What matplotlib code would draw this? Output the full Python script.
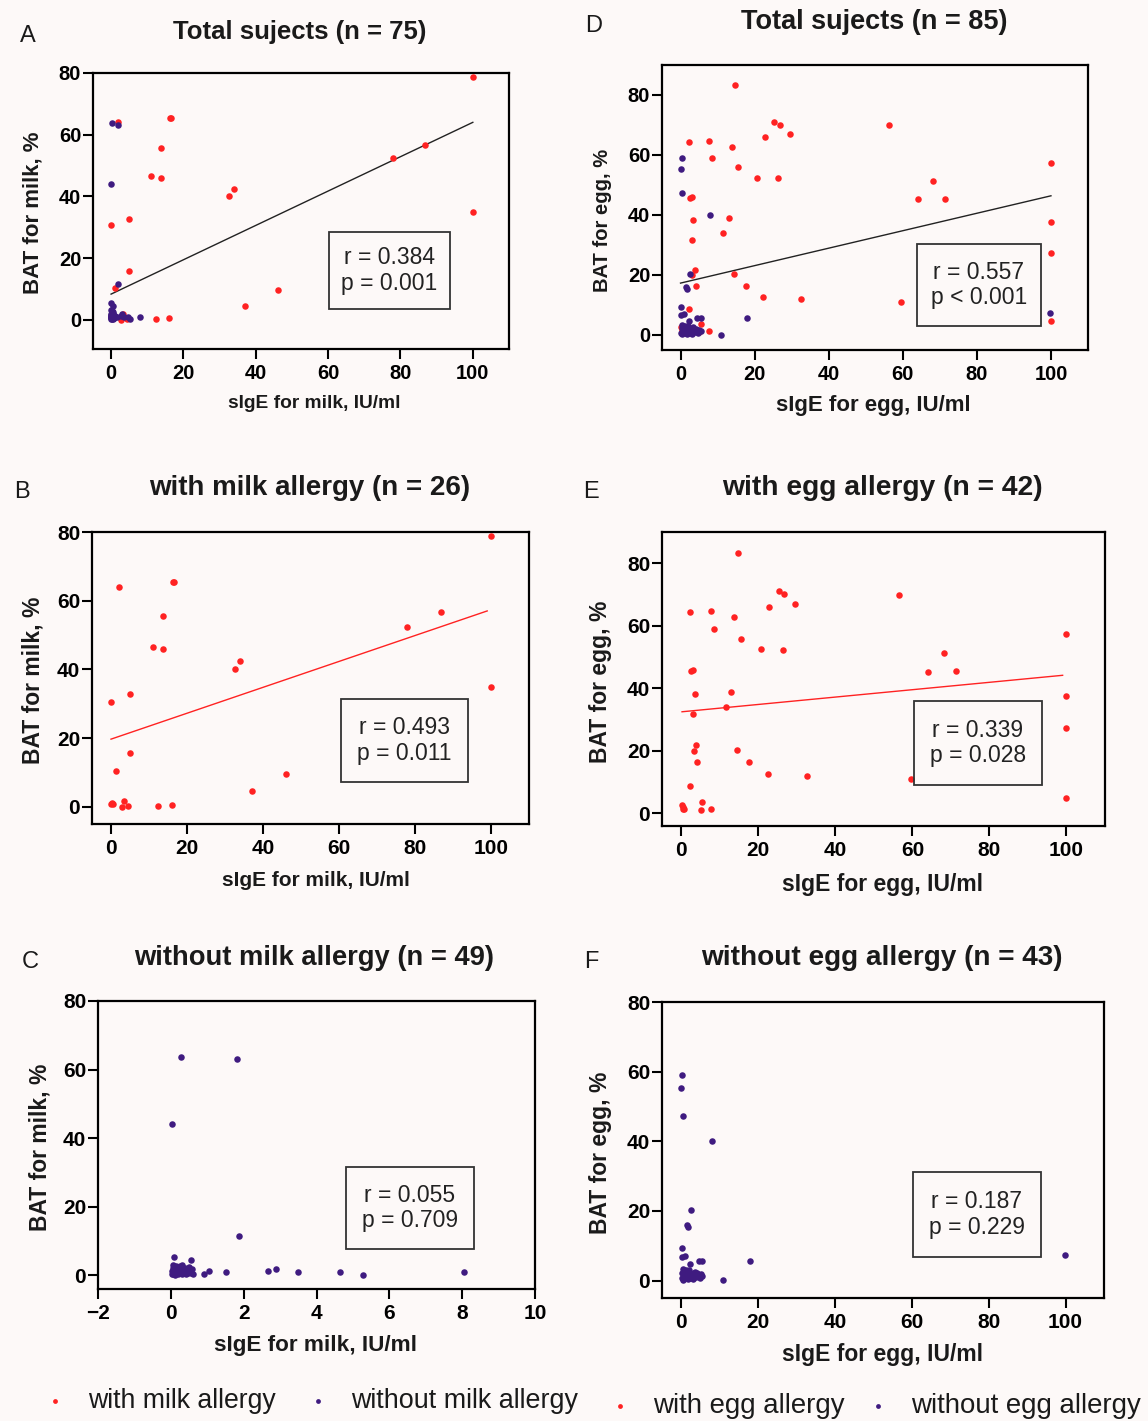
import matplotlib
matplotlib.use("Agg")
import matplotlib.pyplot as plt
from matplotlib.patches import Rectangle
import numpy as np

plt.rcParams['font.family'] = ['Liberation Sans', 'DejaVu Sans']

# milk allergy (n = 26): sIgE for milk, BAT for milk
milk_pos_x = [100, 2.0, 16.4, 16.6, 13.7, 11.1, 13.7, 32.7, 34.0, 77.8, 86.8, 100,
              0.0, 5.0, 4.9, 1.2, 0.0, 0.6, 2.8, 3.4, 4.5, 12.4, 16.1, 37.0, 46.1, 0.3]
milk_pos_y = [78.7, 64.0, 65.5, 65.3, 55.6, 46.6, 45.9, 40.1, 42.5, 52.3, 56.8, 34.8,
              30.6, 32.8, 15.8, 10.4, 0.9, 0.7, -0.1, 1.7, 0.1, 0.1, 0.4, 4.5, 9.6, 1.0]

# without milk allergy (n = 49)
milk_neg_x = [0.28, 1.82, 0.04, 1.86, 0.10, 0.56, 0.91, 1.05, 1.51, 2.68, 2.89, 3.48, 4.64, 5.28, 8.04,
              0.02, 0.03, 0.05, 0.06, 0.08, 0.10, 0.12, 0.13, 0.15, 0.17, 0.18, 0.20, 0.22, 0.24,
              0.25, 0.27, 0.30, 0.32, 0.34, 0.36, 0.38, 0.40, 0.42, 0.45, 0.48, 0.50, 0.52, 0.55,
              0.58, 0.60, 0.05, 0.15, 0.28, 0.44]
milk_neg_y = [63.8, 63.0, 44.1, 11.6, 5.3, 4.6, 0.4, 1.2, 0.9, 1.2, 1.7, 0.9, 0.9, 0.2, 0.9,
              0.5, 1.2, 0.3, 2.0, 0.8, 1.5, 0.2, 2.4, 1.0, 0.6, 1.8, 0.4, 1.3, 2.6,
              0.9, 1.6, 0.5, 2.9, 1.1, 0.7, 2.2, 1.4, 0.3, 1.9, 0.8, 2.5, 1.0, 0.6,
              1.7, 0.4, 3.0, 2.8, 2.1, 0.9]

# egg allergy (n = 42)
egg_pos_x = [14.7, 2.2, 7.8, 13.8, 8.5, 15.5, 22.9, 25.3, 26.8, 29.5, 20.6, 26.4, 56.4, 100,
             68.1, 64.0, 71.3, 2.6, 3.0, 3.5, 13.0, 11.6, 3.1, 100, 100, 3.8, 3.2, 4.2,
             14.4, 17.7, 22.4, 32.6, 59.6, 2.2, 100, 0.2, 0.4, 0.8, 5.5, 5.1, 7.8, 0.5]
egg_pos_y = [83.2, 64.4, 64.6, 62.7, 58.9, 55.9, 65.9, 71.0, 70.1, 67.0, 52.5, 52.4, 69.9, 57.5,
             51.4, 45.3, 45.4, 45.7, 46.0, 38.2, 38.9, 33.9, 31.7, 37.7, 27.4, 21.8, 20.1, 16.4,
             20.3, 16.4, 12.7, 11.9, 10.9, 8.7, 4.8, 2.8, 1.4, 1.3, 3.6, 1.0, 1.4, 2.0]

# without egg allergy (n = 43)
egg_neg_x = [0.3, 0.0, 0.4, 8.0, 2.5, 1.5, 1.8, 0.1, 0.2, 1.0, 2.2, 4.5, 5.5, 18.0, 11.0, 99.8,
             0.1, 0.3, 0.5, 0.7, 0.9, 1.1, 1.3, 1.5, 1.7, 1.9, 2.1, 2.3, 2.5, 2.8, 3.0, 3.3,
             3.6, 3.9, 4.2, 4.5, 4.8, 5.1, 5.4, 0.4, 1.2, 2.0, 3.5]
egg_neg_y = [59.0, 55.2, 47.3, 40.1, 20.4, 15.9, 15.4, 9.4, 6.7, 7.0, 4.7, 5.7, 5.7, 5.7, 0.1, 7.4,
             0.8, 2.2, 0.3, 1.5, 2.8, 0.6, 1.9, 1.0, 0.4, 2.5, 1.3, 0.7, 2.0, 1.1, 0.5, 2.3,
             1.6, 0.9, 2.1, 1.2, 0.6, 1.8, 1.4, 3.2, 3.0, 2.9, 2.6]

# regression lines as printed (intercept, slope)
fit_a = [8.3, 0.557]
fit_b = [19.7, 0.377]
fit_d = [17.3, 0.291]
fit_e = [32.5, 0.118]

stats = {"A": "r = 0.384\np = 0.001", "B": "r = 0.493\np = 0.011", "C": "r = 0.055\np = 0.709",
         "D": "r = 0.557\np < 0.001", "E": "r = 0.339\np = 0.028", "F": "r = 0.187\np = 0.229"}

RED = '#ff2222'
PURPLE = '#3f1b80'
BG = '#fdf9f8'
W, H = 1148, 1421

fig = plt.figure(figsize=(W / 100, H / 100), dpi=100, facecolor=BG)


def rect(l, r, t, b):
    return [l / W, 1 - b / H, (r - l) / W, (b - t) / H]


def make_ax(box, xlim, ylim, xticks, yticks, tsize=15):
    ax = fig.add_axes(rect(*box))
    ax.set_facecolor(BG)
    ax.set_xlim(*xlim)
    ax.set_ylim(*ylim)
    ax.set_xticks(xticks)
    ax.set_yticks(yticks)
    for s in ax.spines.values():
        s.set_linewidth(1.6)
    ax.tick_params(length=7, width=1.5, labelsize=tsize)
    ax.tick_params(axis='x', pad=4)
    ax.tick_params(axis='y', pad=1.5)
    for lab in ax.get_xticklabels() + ax.get_yticklabels():
        lab.set_fontweight('bold')
    return ax


def stat_box(ax, key, x0, x1, y0, y1):
    ax.add_patch(Rectangle((x0, y0), x1 - x0, y1 - y0, transform=ax.transAxes,
                           fill=False, edgecolor='#333333', linewidth=1.3, zorder=4))
    ax.text((x0 + x1) / 2, (y0 + y1) / 2, stats[key], transform=ax.transAxes,
            ha='center', va='center', fontsize=16.5, color='#222222',
            linespacing=1.15, zorder=5)


def fit_line(ax, fit, xs, color):
    xx = np.array([min(xs), max(xs)])
    ax.plot(xx, fit[0] + fit[1] * xx, color=color, linewidth=1.0, zorder=2)


mk = dict(s=22, linewidths=0, zorder=3)
xt100 = [0, 20, 40, 60, 80, 100]

# A
axA = make_ax((93, 509, 73, 349), (-5, 110), (-9.5, 80), xt100, [0, 20, 40, 60, 80], 14.5)
axA.scatter(milk_pos_x, milk_pos_y, color=RED, **mk)
axA.scatter(milk_neg_x, milk_neg_y, color=PURPLE, **mk)
fit_line(axA, fit_a, milk_pos_x + milk_neg_x, '#222222')
stat_box(axA, "A", 0.567, 0.858, 0.145, 0.424)

# B
axB = make_ax((92, 529, 532, 824), (-5, 110), (-5, 80), xt100, [0, 20, 40, 60, 80])
axB.scatter(milk_pos_x, milk_pos_y, color=RED, **mk)
fit_line(axB, fit_b, [0, 99], RED)
stat_box(axB, "B", 0.569, 0.861, 0.145, 0.427)

# C
axC = make_ax((98, 535, 1001, 1289), (-2, 10), (-4, 80), [-2, 0, 2, 4, 6, 8, 10], [0, 20, 40, 60, 80])
axC.scatter(milk_neg_x, milk_neg_y, color=PURPLE, **mk)
stat_box(axC, "C", 0.567, 0.860, 0.139, 0.423)

# D
axD = make_ax((662, 1088, 65, 350), (-5, 110), (-5, 90), xt100, [0, 20, 40, 60, 80], 14.5)
axD.scatter(egg_pos_x, egg_pos_y, color=RED, **mk)
axD.scatter(egg_neg_x, egg_neg_y, color=PURPLE, **mk)
fit_line(axD, fit_d, egg_pos_x + egg_neg_x, '#222222')
stat_box(axD, "D", 0.598, 0.890, 0.085, 0.371)

# E
axE = make_ax((662, 1105, 532, 826), (-5, 110), (-4, 90), xt100, [0, 20, 40, 60, 80])
axE.scatter(egg_pos_x, egg_pos_y, color=RED, **mk)
fit_line(axE, fit_e, [0.2, 99], RED)
stat_box(axE, "E", 0.568, 0.858, 0.140, 0.424)

# F
axF = make_ax((662, 1104, 1002, 1298), (-5, 110), (-5, 80), xt100, [0, 20, 40, 60, 80])
axF.scatter(egg_neg_x, egg_neg_y, color=PURPLE, **mk)
stat_box(axF, "F", 0.567, 0.858, 0.140, 0.424)


def ftext(x, y, s, **kw):
    fig.text(x / W, 1 - y / H, s, **kw)


titles = [(300, 32, "Total sujects (n = 75)", 18.5), (874, 22, "Total sujects (n = 85)", 19.5),
          (310, 488, "with milk allergy (n = 26)", 20), (882, 488, "with egg allergy (n = 42)", 20.3),
          (314, 958, "without milk allergy (n = 49)", 19.7), (882, 958, "without egg allergy (n = 43)", 20.2)]
for x, y, s, fs in titles:
    ftext(x, y, s, ha='center', va='center', fontsize=fs, fontweight='bold', color='#1a1a1a')

letters = [(28, 36, "A"), (594, 26, "D"), (22, 492, "B"), (591, 492, "E"), (30, 962, "C"), (591, 962, "F")]
for x, y, s in letters:
    ftext(x, y, s, ha='center', va='center', fontsize=17, color='#1a1a1a')

ylabels = [(33, 213, "BAT for milk, %", 16), (33, 680, "BAT for milk, %", 16.5),
           (40, 1147, "BAT for milk, %", 16.5), (603, 220, "BAT for egg, %", 14.5),
           (601, 682, "BAT for egg, %", 16.5), (601, 1153, "BAT for egg, %", 16.5)]
for x, y, s, fs in ylabels:
    ftext(x, y, s, ha='center', va='center', rotation=90, fontsize=fs, fontweight='bold', color='#1a1a1a')

xlabels = [(314, 404, "sIgE for milk, IU/ml", 13.8), (873, 405, "sIgE for egg, IU/ml", 16),
           (316, 880, "sIgE for milk, IU/ml", 15), (883, 884, "sIgE for egg, IU/ml", 16.5),
           (316, 1346, "sIgE for milk, IU/ml", 16.2), (883, 1355, "sIgE for egg, IU/ml", 16.5)]
for x, y, s, fs in xlabels:
    ftext(x, y, s, ha='center', va='center', fontsize=fs, fontweight='bold', color='#1a1a1a')

# legend along the bottom
leg = fig.add_axes([0, 0, 1, 1], facecolor='none')
leg.set_xlim(0, W)
leg.set_ylim(H, 0)
leg.axis('off')
legend_items = [(55, 1401, RED, "with milk allergy", 19.2), (318, 1401, PURPLE, "without milk allergy", 19.4),
                (620, 1406, RED, "with egg allergy", 19.9), (878, 1406, PURPLE, "without egg allergy", 19.9)]
for x, y, c, s, fs in legend_items:
    leg.scatter([x], [y], s=12, color=c, linewidths=0)
    leg.text(x + 33, y, s, ha='left', va='center', fontsize=fs, color='#1a1a1a')

fig.savefig("out.png", dpi=100, facecolor=BG)
